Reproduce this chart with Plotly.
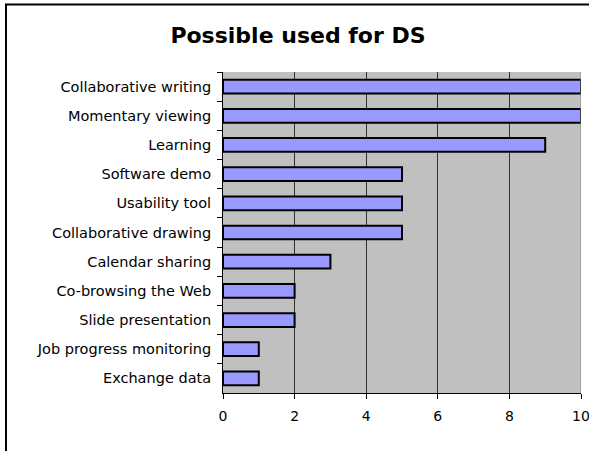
import plotly.graph_objects as go

# Possible uses for DS, number of mentions
uses = [
    "Collaborative writing",
    "Momentary viewing",
    "Learning",
    "Software demo",
    "Usability tool",
    "Collaborative drawing",
    "Calendar sharing",
    "Co-browsing the Web",
    "Slide presentation",
    "Job progress monitoring",
    "Exchange data",
]
counts = [10, 10, 9, 5, 5, 5, 3, 2, 2, 1, 1]
x_ticks = [0, 2, 4, 6, 8, 10]

W, H = 589, 451
L, R, T, B = 223, 8, 72, 58
pw, ph = W - L - R, H - T - B


def px_x(p):
    return (p - L) / pw


def px_y(p):
    return (H - B - p) / ph


FONT = "DejaVu Sans, Liberation Sans, Arial, sans-serif"

fig = go.Figure(
    go.Bar(
        x=counts,
        y=uses,
        orientation="h",
        marker=dict(color="#9999FF", line=dict(color="black", width=2)),
        width=0.47,
        hoverinfo="x+y",
    )
)

fig.update_layout(
    width=W,
    height=H,
    margin=dict(l=L, r=R, t=T, b=B, autoexpand=False),
    paper_bgcolor="white",
    plot_bgcolor="#C0C0C0",
    font=dict(family=FONT, size=14, color="black"),
    title=dict(
        text="<b>Possible used for DS</b>",
        x=298 / W,
        xanchor="center",
        y=1 - 35 / H,
        yanchor="middle",
        font=dict(family=FONT, size=22, color="black"),
    ),
    showlegend=False,
    xaxis=dict(
        range=[0, 10],
        tickvals=x_ticks,
        automargin=False,
        ticklabeloverflow="allow",
        showgrid=True,
        gridcolor="#333333",
        gridwidth=1,
        zeroline=False,
        showline=True,
        linecolor="black",
        linewidth=1,
        ticks="outside",
        ticklen=5,
        tickcolor="black",
        ticklabelstandoff=5,
        tickfont=dict(size=14),
    ),
    yaxis=dict(
        type="category",
        categoryorder="array",
        categoryarray=uses,
        autorange="reversed",
        automargin=False,
        showline=True,
        linecolor="black",
        linewidth=1,
        ticks="outside",
        tickson="boundaries",
        ticklen=5,
        tickcolor="black",
        ticklabelstandoff=8,
        showgrid=False,
        tickfont=dict(size=14.5),
    ),
    shapes=[
        # gray edge on the right of the plot area
        dict(
            type="line", xref="x", yref="paper",
            x0=10, x1=10, y0=0, y1=1,
            line=dict(color="#808080", width=1),
        ),
        # outer chart frame
        dict(
            type="rect", xref="paper", yref="paper",
            x0=px_x(6), x1=px_x(620), y0=px_y(480), y1=px_y(4.5),
            line=dict(color="black", width=2),
            fillcolor="rgba(0,0,0,0)",
            layer="above",
        ),
    ],
)

fig.write_html("out.html")
